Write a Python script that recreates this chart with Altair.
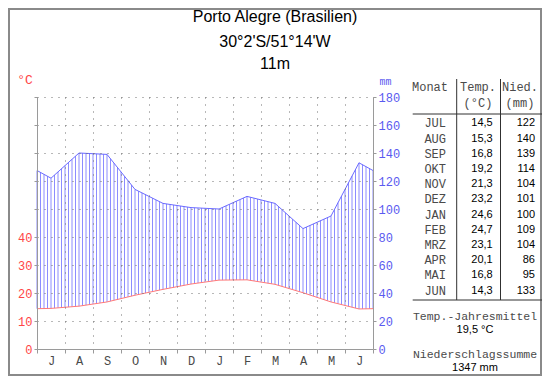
import altair as alt
import pandas as pd

# ---- data ----
axis_months = ["J", "A", "S", "O", "N", "D", "J", "F", "M", "A", "M", "J"]
table_months = ["JUL", "AUG", "SEP", "OKT", "NOV", "DEZ", "JAN", "FEB", "MRZ", "APR", "MAI", "JUN"]
temp = [14.5, 15.3, 16.8, 19.2, 21.3, 23.2, 24.6, 24.7, 23.1, 20.1, 16.8, 14.3]
precip = [122, 140, 139, 114, 104, 101, 100, 109, 104, 86, 95, 133]
title_lines = ["Porto Alegre (Brasilien)", "30°2'S/51°14'W", "11m"]
mean_text = "19,5 °C"
sum_text = "1347 mm"

# curve points: month centres, plus the year wrap at both edges
edge_t = (temp[0] + temp[-1]) / 2
edge_p = (precip[0] + precip[-1]) / 2
curve = pd.DataFrame({
    "x": [0] + [i + 0.5 for i in range(12)] + [12],
    "t": [edge_t] + temp + [edge_t],
    "p": [edge_p] + precip + [edge_p],
})
table = pd.DataFrame({
    "m": table_months,
    "tt": [f"{v:.1f}".replace(".", ",") for v in temp],
    "pp": [str(v) for v in precip],
})

W, H = 336, 252
RED = "#ff4646"
BLUE = "#5a5af0"
GRID = "#9a9a9a"
TXT = "#4a4a4a"
MONO = "Liberation Mono"
SANS = "Liberation Sans"

xs = alt.Scale(domain=[0, 12], nice=False, zero=False)
ys = alt.Scale(domain=[0, 180], nice=False, zero=True)
ticks = list(range(0, 181, 20))
letters = "[" + ",".join(f"'{m}'" for m in axis_months) + "]"

x_axis = alt.Axis(
    orient="bottom", values=list(range(13)), title=None,
    labelExpr=f"{letters}[datum.value] || ''",
    labelOffset=14, labelFlush=False, labelOverlap=False,
    labelFont=MONO, labelFontSize=12, labelColor=TXT, labelPadding=2,
    tickSize=4, tickColor=GRID, domainColor=GRID,
    grid=True, gridDash=[1, 6], gridColor="#707070", zindex=1,
)

# hatching between temperature and precipitation curves
hatch = (
    alt.Chart(curve)
    .transform_window(x1="lead(x)", t1="lead(t)", p1="lead(p)", sort=[{"field": "x"}])
    .transform_filter("datum.x1 != null")
    .transform_calculate(js="sequence(datum.x == 0 ? 0 : 1, round((datum.x1 - datum.x) * 8) + 1)")
    .transform_flatten(["js"])
    .transform_calculate(hx="datum.x + datum.js / 8")
    .transform_calculate(f="(datum.js / 8) / (datum.x1 - datum.x)")
    .transform_calculate(ht="2 * (datum.t + datum.f * (datum.t1 - datum.t))")
    .transform_calculate(hp="datum.p + datum.f * (datum.p1 - datum.p)")
    .mark_rule(color="#8c8cff", strokeWidth=1)
    .encode(
        x=alt.X("hx:Q", scale=xs, axis=x_axis),
        y=alt.Y("ht:Q", scale=ys, axis=None),
        y2="hp:Q",
    )
)

temp_line = (
    alt.Chart(curve)
    .transform_calculate(t2="datum.t * 2")
    .mark_line(color="#ff7878", strokeWidth=1)
    .encode(
        x=alt.X("x:Q", scale=xs, axis=x_axis),
        y=alt.Y(
            "t2:Q", scale=ys,
            axis=alt.Axis(
                orient="left", values=ticks, title=None,
                labelExpr="datum.value <= 80 ? '' + datum.value / 2 : ''",
                labelFont=MONO, labelFontSize=12, labelColor=RED, labelPadding=2,
                tickSize=3, tickColor=GRID, domainColor=GRID,
                grid=True, gridDash=[1, 6], gridColor="#707070", zindex=1,
            ),
        ),
    )
)

precip_line = (
    alt.Chart(curve)
    .mark_line(color="#6a6aff", strokeWidth=1)
    .encode(
        x=alt.X("x:Q", scale=xs, axis=x_axis),
        y=alt.Y(
            "p:Q", scale=ys,
            axis=alt.Axis(
                orient="right", values=ticks, title=None,
                labelFont=MONO, labelFontSize=12, labelColor=BLUE, labelPadding=2,
                tickSize=3, tickColor=GRID, domainColor=GRID, grid=False, zindex=1,
            ),
        ),
    )
)

one = alt.Data(values=[{}])


def label(text, x, y, size=12, font=MONO, color=TXT, align="center"):
    return alt.Chart(one).mark_text(
        text=text, font=font, fontSize=size, color=color, align=align, baseline="middle"
    ).encode(x=alt.value(x), y=alt.value(y))


def line(x, x2, y, y2, color="#303030"):
    return alt.Chart(one).mark_rule(color=color, strokeWidth=1).encode(
        x=alt.value(x), x2=alt.value(x2), y=alt.value(y), y2=alt.value(y2)
    )


titles = [label(t, 238, yy, size=16, font=SANS, color="#000000")
          for t, yy in zip(title_lines, [-80.3, -55.5, -33])]

row_y = alt.Y("m:N", sort=table_months,
              scale=alt.Scale(type="point", range=[26.3, 193.7], padding=0), axis=None)
tab_m = alt.Chart(table).mark_text(font=MONO, fontSize=12, color=TXT, align="right",
                                   baseline="middle").encode(x=alt.value(409), y=row_y, text="m:N")
tab_t = alt.Chart(table).mark_text(font=SANS, fontSize=11, color="#000000", align="right",
                                   baseline="middle").encode(x=alt.value(455.7), y=row_y, text="tt:N")
tab_p = alt.Chart(table).mark_text(font=SANS, fontSize=11, color="#000000", align="right",
                                   baseline="middle").encode(x=alt.value(498), y=row_y, text="pp:N")

extras = [
    label("°C", -12, -17, size=13, color=RED),
    label("mm", 348.5, -15.5, size=10, color=BLUE),
    label("Monat", 393, -10.3, size=12),
    label("Temp.", 441, -10.3, size=12),
    label("(°C)", 441, 6.3, size=12),
    label("Nied.", 483, -10.3, size=12),
    label("(mm)", 483, 6.3, size=12),
    label("Temp.-Jahresmittel", 438, 219.7, size=11.5),
    label(mean_text, 438, 233.2, size=11, font=SANS, color="#000000"),
    label("Niederschlagssumme", 438, 258, size=11.5),
    label(sum_text, 438, 271.3, size=11, font=SANS, color="#000000"),
    line(419.7, 419.7, -18, 203),
    line(463.5, 463.5, -18, 203),
    line(375.7, 505.7, 17, 17),
    line(375.7, 505.7, 203, 203),
]

border = alt.Chart(one).mark_rect(filled=False, stroke="#8a8a8a", strokeWidth=2).encode(
    x=alt.value(-28), x2=alt.value(504), y=alt.value(-88), y2=alt.value(278)
)

chart = (
    alt.layer(hatch, precip_line, temp_line, tab_m, tab_t, tab_p, border, *titles, *extras)
    .resolve_scale(y="independent")
    .properties(
        width=W, height=H,
        autosize=alt.AutoSizeParams(type="none"),
        padding={"left": 29, "top": 89, "right": 169, "bottom": 27},
        background="white",
    )
    .configure_view(stroke=None)
)

chart.save("out.html", embed_options={"renderer": "svg", "actions": False})
